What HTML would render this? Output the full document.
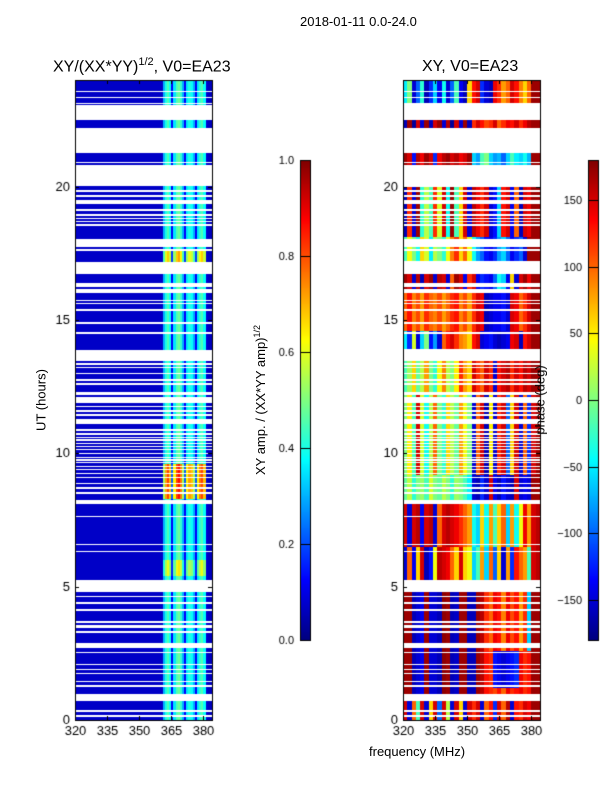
<!DOCTYPE html>
<html><head><meta charset="utf-8">
<style>
html,body{margin:0;padding:0;background:#fff;}
#root{position:relative;width:600px;height:800px;overflow:hidden;font-family:"Liberation Sans","DejaVu Sans",sans-serif;color:#000;}
.t{position:absolute;white-space:nowrap;}
canvas{position:absolute;left:0;top:0;}
</style></head>
<body>
<div id="root">
<canvas id="cv" width="600" height="800"></canvas>
<div class="t" style="left:300px;top:14px;font-size:13px;">2018-01-11 0.0-24.0</div>
<div class="t" style="left:53px;top:56px;font-size:16px;">XY/(XX*YY)<sup style="font-size:11px">1/2</sup>, V0=EA23</div>
<div class="t" style="left:422px;top:58px;font-size:16px;">XY, V0=EA23</div>
<div class="t" style="left:369px;top:744px;font-size:13px;">frequency (MHz)</div>
<div class="t" style="left:41px;top:400px;font-size:13px;transform:translate(-50%,-50%) rotate(-90deg);">UT (hours)</div>
<div class="t" style="left:260px;top:400px;font-size:13px;transform:translate(-50%,-50%) rotate(-90deg);">XY amp. / (XX*YY amp)<sup style="font-size:9px">1/2</sup></div>
<div class="t" style="left:540px;top:400px;font-size:13px;transform:translate(-50%,-50%) rotate(-90deg);">phase (deg)</div>
</div>
<script>
// ---- data ----
const freqStart = 320, freqEnd = 384;
const xTicks = [320, 335, 350, 365, 380];
const yTicks = [0, 5, 10, 15, 20];
const ampTicks = [0.0, 0.2, 0.4, 0.6, 0.8, 1.0];
const phaseTicks = [-150, -100, -50, 0, 50, 100, 150];
// amplitude per 1 MHz channel (320..383)
const ampProfile = [
0.07,0.07,0.07,0.07,0.07,0.07,0.07,0.07,0.07,0.07,0.07,0.07,0.07,0.07,0.07,0.07,
0.07,0.07,0.07,0.07,0.07,0.07,0.07,0.07,0.07,0.07,0.07,0.07,0.07,0.07,0.07,0.07,
0.07,0.07,0.07,0.07,0.07,0.07,0.07,0.07,0.07,0.3,0.4,0.45,0.38,0.12,0.35,0.45,
0.48,0.42,0.3,0.12,0.35,0.4,0.38,0.3,0.12,0.35,0.42,0.45,0.38,0.08,0.06,0.06];
// time ranges with amplified amplitude
const ampHotStart = [8.3, 5.4, 17.1];
const ampHotEnd = [9.6, 6.0, 17.6];
const ampHotFactor = [1.8, 1.35, 1.5];
// flagged (blank) time ranges, hours
const gaps = [
[23.55,23.60],[23.33,23.36],[23.10,23.14],[22.50,23.06],[21.26,22.20],[20.89,20.93],[20.03,20.81],
[19.80,19.88],[19.61,19.69],[19.35,19.50],[19.09,19.16],[18.90,18.98],[18.79,18.83],[18.68,18.71],
[18.53,18.60],[17.74,18.04],[17.59,17.66],[16.73,17.18],[16.24,16.39],[16.01,16.16],[15.71,15.75],
[15.60,15.64],[15.34,15.41],[14.85,14.93],[14.48,14.55],[13.46,13.88],[13.31,13.39],[13.20,13.24],
[12.98,13.01],[12.71,12.79],[12.56,12.64],[12.19,12.30],[11.89,12.11],[11.74,11.78],[11.55,11.63],
[11.40,11.48],[11.10,11.29],[10.84,10.91],[10.69,10.76],[10.58,10.61],[10.48,10.52],[10.35,10.39],
[10.22,10.26],[10.11,10.15],[9.99,10.03],[9.84,9.88],[9.73,9.77],[9.62,9.66],[9.47,9.51],[9.36,9.40],
[9.24,9.28],[9.08,9.11],[8.85,8.89],[8.66,8.74],[8.48,8.55],[8.10,8.25],[7.61,7.65],[6.56,6.60],
[6.30,6.34],[4.80,5.25],[4.61,4.65],[4.35,4.43],[4.09,4.16],[3.64,3.71],[3.45,3.56],[3.26,3.34],
[2.70,2.89],[2.51,2.55],[2.06,2.10],[1.88,1.91],[1.73,1.76],[1.43,1.46],[1.24,1.31],[0.71,0.98],
[0.30,0.38],[0.11,0.19]];
// phase zones: 32 channels of 2 MHz
const phaseZoneStart = [0, 0.7, 1.2, 2.6, 5.25, 6.5, 8.25, 9.2, 12.2, 13.9, 14.6, 16.1, 17.2, 18.1, 20.8, 22.2, 23.1];
const phaseZoneEnd = [0.7, 1.2, 2.6, 4.8, 6.5, 8.25, 9.2, 12.2, 13.5, 14.6, 16.0, 16.8, 18.1, 20.0, 21.3, 22.5, 24];
const phaseZoneValues = [
[150,-150,100,-20,150,-150,60,150,-100,150,20,-150,150,60,-150,150,120,150,-150,100,130,-120,150,100,160,-150,130,120,150,140,170,170],
[170,170,-160,-150,-140,170,-150,-150,-160,175,170,-160,-155,170,170,-160,-160,170,160,130,120,110,130,100,140,120,130,140,120,130,170,170],
[170,170,-160,-150,-140,170,-150,-150,-160,175,170,-160,-155,170,170,-160,-160,170,160,130,120,-130,-140,-150,-140,-130,-120,140,120,130,170,170],
[170,170,-160,-150,-140,170,-150,-150,-160,175,170,-160,-155,170,170,-160,-160,170,160,120,100,140,130,90,140,110,130,80,120,-60,170,170],
[-150,100,-140,60,150,-160,-130,40,160,150,140,100,60,150,60,40,-60,-20,80,-60,100,-100,60,-150,80,-120,130,100,80,-20,150,160],
[150,-150,150,160,-140,150,160,-150,100,150,160,150,140,120,100,80,-40,-60,60,-40,80,-20,60,100,-60,80,-40,40,140,80,150,160],
[-10,20,-30,0,10,-20,30,0,-10,20,0,-30,10,0,-20,-50,-150,-160,-120,-150,150,-140,-160,-130,-150,-160,150,-150,-140,-150,170,170],
[0,50,-20,150,30,-40,20,100,0,-30,60,20,-10,80,40,0,-150,100,150,-160,50,-150,120,150,-100,60,150,-150,100,-120,150,170],
[-20,10,60,-10,20,80,0,-30,40,90,20,0,50,120,80,60,150,120,100,150,120,-150,130,150,160,120,150,130,160,150,170,170],
[-50,-120,30,-150,-60,0,-130,-80,-150,100,130,150,120,90,80,60,130,150,-150,-140,-130,-150,-160,-150,-140,140,150,-160,130,150,170,170],
[100,130,90,110,80,120,100,90,110,80,100,120,130,90,110,80,120,150,140,-160,-150,-140,-140,-130,-150,150,140,100,120,150,170,170],
[170,150,-150,160,-160,150,170,-150,160,150,-150,100,170,150,-140,120,150,-140,-120,-130,-140,-100,-40,-60,-140,60,-150,150,170,140,170,170],
[-20,40,0,-40,60,30,-50,20,0,-30,40,90,120,60,100,40,-40,-80,-100,-130,-140,-120,-80,-60,-100,-140,-120,-100,-150,170,170,170],
[-160,120,-150,170,-30,20,-20,120,30,150,-40,170,-20,60,150,-150,160,140,120,150,-150,-130,-60,130,150,-140,100,-160,150,140,170,170],
[170,150,-130,160,140,170,150,-120,140,160,170,150,160,140,150,170,-60,-80,-20,0,-60,-80,-70,-100,-60,-20,-50,-60,-40,-70,170,170],
[-160,170,-170,150,-150,170,-160,150,170,-150,160,-170,150,-150,170,-160,120,150,130,110,120,150,100,120,140,130,150,120,140,160,170,170],
[-50,0,-150,-100,-30,-160,-120,-60,-140,-40,-150,-100,-20,-140,-160,60,130,150,-120,-150,-160,140,120,80,100,150,130,90,60,100,170,170]];

// ---- layout ----
const L = {x0:75, x1:212}, R = {x0:403, x1:540};
const yTop = 80, yBot = 720, tMax = 24;
const cbA = {x:300, w:10}, cbP = {x:588, w:10}, cbTop = 160, cbBot = 640;
const yS = t => yBot - (t / tMax) * (yBot - yTop);
const xS = (p, f) => p.x0 + (f - freqStart) / (freqEnd - freqStart) * (p.x1 - p.x0);
const clamp = v => Math.max(0, Math.min(1, v));
function jet(v) {
  const r = clamp(1.5 - Math.abs(4 * v - 3)), g = clamp(1.5 - Math.abs(4 * v - 2)), b = clamp(1.5 - Math.abs(4 * v - 1));
  return `rgb(${Math.round(r * 255)},${Math.round(g * 255)},${Math.round(b * 255)})`;
}
const cv = document.getElementById('cv');
const ctx = cv.getContext('2d');
ctx.fillStyle = '#fff'; ctx.fillRect(0, 0, 600, 800);
function box(xa, ya, xb, yb) {
  const x0 = Math.round(xa), x1 = Math.round(xb), y0 = Math.round(ya), y1 = Math.round(yb);
  if (x1 > x0 && y1 > y0) ctx.fillRect(x0, y0, x1 - x0, y1 - y0);
}

// left amplitude panel
function ampFactor(t) {
  for (let i = 0; i < ampHotStart.length; i++) if (t >= ampHotStart[i] && t < ampHotEnd[i]) return ampHotFactor[i];
  return 1;
}
const tStep = 0.05;
for (let k = 0; k < tMax / tStep; k++) {
  const t = k * tStep;
  const f = ampFactor(t + tStep / 2);
  for (let c = 0; c < ampProfile.length; c++) {
    const v = ampProfile[c] > 0.1 ? ampProfile[c] * f : ampProfile[c];
    ctx.fillStyle = jet(Math.min(1, v));
    box(xS(L, freqStart + c), yS(t + tStep), xS(L, freqStart + c + 1), yS(t));
  }
}
// right phase panel
const nCh = 32, chW = (freqEnd - freqStart) / nCh;
for (let z = 0; z < phaseZoneStart.length; z++) {
  for (let c = 0; c < nCh; c++) {
    ctx.fillStyle = jet((phaseZoneValues[z][c] + 180) / 360);
    box(xS(R, freqStart + c * chW), yS(phaseZoneEnd[z]), xS(R, freqStart + (c + 1) * chW), yS(phaseZoneStart[z]));
  }
}
// gaps
ctx.fillStyle = '#fff';
for (const g of gaps) {
  for (const p of [L, R]) {
    const ya = Math.round(yS(g[1])), yb = Math.max(Math.round(yS(g[0])), ya + 1);
    ctx.fillRect(p.x0, ya, p.x1 - p.x0, yb - ya);
  }
}
// axes frames & ticks
ctx.strokeStyle = '#000'; ctx.lineWidth = 1;
ctx.fillStyle = '#000';
ctx.font = '13px "Liberation Sans", sans-serif';
for (const p of [L, R]) {
  ctx.strokeRect(p.x0 + 0.5, yTop + 0.5, p.x1 - p.x0, yBot - yTop);
  ctx.textAlign = 'right'; ctx.textBaseline = 'middle';
  for (const v of yTicks) {
    const y = Math.round(yS(v)) + 0.5;
    ctx.beginPath(); ctx.moveTo(p.x0, y); ctx.lineTo(p.x0 + 4, y); ctx.moveTo(p.x1, y); ctx.lineTo(p.x1 - 4, y); ctx.stroke();
    ctx.fillText(String(v), p.x0 - 5, y);
  }
  ctx.textAlign = 'center'; ctx.textBaseline = 'top';
  for (const v of xTicks) {
    const x = Math.round(xS(p, v)) + 0.5;
    ctx.beginPath(); ctx.moveTo(x, yBot); ctx.lineTo(x, yBot - 4); ctx.moveTo(x, yTop); ctx.lineTo(x, yTop + 4); ctx.stroke();
    ctx.fillText(String(v), x, yBot + 5);
  }
}
// colorbars
function colorbar(cb, vmin, vmax, ticks, fmt) {
  for (let y = cbTop; y < cbBot; y++) {
    const v = 1 - (y + 0.5 - cbTop) / (cbBot - cbTop);
    ctx.fillStyle = jet(v); ctx.fillRect(cb.x, y, cb.w, 1);
  }
  ctx.strokeStyle = '#000'; ctx.strokeRect(cb.x + 0.5, cbTop + 0.5, cb.w, cbBot - cbTop);
  ctx.fillStyle = '#000'; ctx.textAlign = 'right'; ctx.textBaseline = 'middle';
  for (const v of ticks) {
    const y = Math.round(cbBot - (v - vmin) / (vmax - vmin) * (cbBot - cbTop)) + 0.5;
    ctx.beginPath(); ctx.moveTo(cb.x, y); ctx.lineTo(cb.x + cb.w, y); ctx.stroke();
    ctx.fillText(fmt(v), cb.x - 6, y);
  }
}
ctx.font = '11px "Liberation Sans", sans-serif';
colorbar(cbA, 0, 1, ampTicks, v => v.toFixed(1));
colorbar(cbP, -180, 180, phaseTicks, v => (v < 0 ? '\u2212' + Math.abs(v) : String(v)));
</script>
</body></html>
